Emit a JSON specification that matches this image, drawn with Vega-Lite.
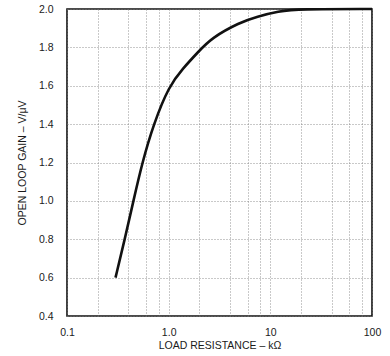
{
  "$schema": "https://vega.github.io/schema/vega-lite/v6.json",
  "autosize": "none",
  "width": 305,
  "height": 307,
  "padding": {"left": 67, "top": 9, "right": 18, "bottom": 40},
  "background": "white",
  "config": {
    "font": "Liberation Sans",
    "view": {"stroke": "#111", "strokeWidth": 1.6},
    "axis": {
      "domain": false,
      "ticks": false,
      "grid": true,
      "gridDash": [1, 2],
      "gridColor": "#777",
      "gridWidth": 0.8,
      "labelFlush": false,
      "labelFont": "Liberation Sans",
      "labelFontSize": 10.5,
      "labelColor": "#1a1a1a",
      "titleFont": "Liberation Sans",
      "titleFontSize": 10.5,
      "titleFontWeight": "normal",
      "titleColor": "#1a1a1a"
    }
  },
  "data": {
    "values": [
      {"r": 0.30, "g": 0.60},
      {"r": 0.37, "g": 0.80},
      {"r": 0.45, "g": 1.00},
      {"r": 0.55, "g": 1.20},
      {"r": 0.71, "g": 1.40},
      {"r": 1.01, "g": 1.60},
      {"r": 1.38, "g": 1.69},
      {"r": 1.94, "g": 1.775},
      {"r": 2.65, "g": 1.85},
      {"r": 5.0, "g": 1.93},
      {"r": 7.4, "g": 1.96},
      {"r": 12, "g": 1.988},
      {"r": 19, "g": 2.0},
      {"r": 100, "g": 2.0}
    ]
  },
  "mark": {"type": "line", "interpolate": "basis", "color": "#111", "strokeWidth": 2.6},
  "encoding": {
    "x": {
      "field": "r",
      "type": "quantitative",
      "scale": {"type": "log", "domain": [0.1, 100], "nice": false},
      "axis": {
        "title": "LOAD RESISTANCE – kΩ",
        "values": [0.1, 0.2, 0.4, 0.6, 0.8, 1, 2, 4, 6, 8, 10, 20, 40, 60, 80, 100],
        "labelExpr": "datum.value == 0.1 ? '0.1' : datum.value == 1 ? '1.0' : datum.value == 10 ? '10' : datum.value == 100 ? '100' : ''",
        "labelPadding": 11,
        "titlePadding": 3
      }
    },
    "y": {
      "field": "g",
      "type": "quantitative",
      "scale": {"domain": [0.4, 2.0], "nice": false, "zero": false},
      "axis": {
        "title": "OPEN LOOP GAIN – V/μV",
        "values": [0.4, 0.6, 0.8, 1.0, 1.2, 1.4, 1.6, 1.8, 2.0],
        "format": ".1f",
        "labelPadding": 14,
        "titlePadding": 11
      }
    }
  }
}
